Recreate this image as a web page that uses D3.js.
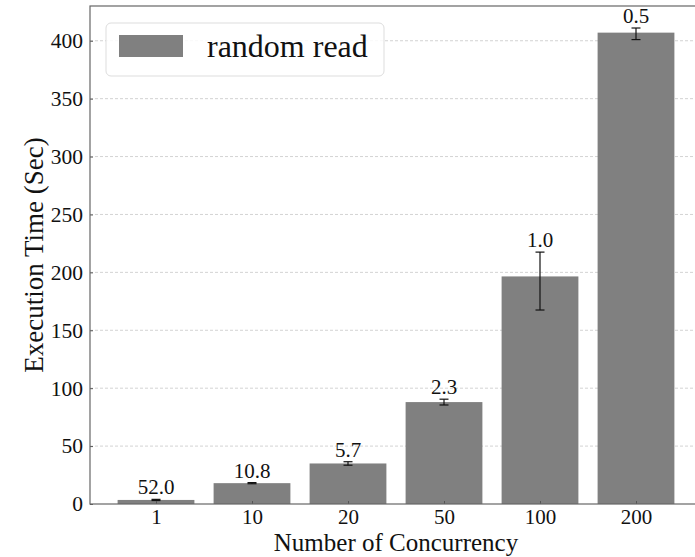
<!DOCTYPE html>
<html>
<head>
<meta charset="utf-8">
<script src="https://cdn.jsdelivr.net/npm/d3@7"></script>
<style>
  body { margin: 0; background: #fff; }
  svg { display: block; font-family: "Liberation Serif", "DejaVu Serif", serif; }
</style>
</head>
<body>
<svg id="chart" width="695" height="557"></svg>
<script>
// data
var categories = ["1", "10", "20", "50", "100", "200"];
var times = [3.5, 18, 35, 88, 196.5, 407];
var errLow = [0.5, 0.5, 1.5, 2.5, 29, 6];
var errHigh = [0.5, 0.5, 1.5, 2.5, 21, 4];
var labels = ["52.0", "10.8", "5.7", "2.3", "1.0", "0.5"];
var yTicks = [0, 50, 100, 150, 200, 250, 300, 350, 400];

var svg = d3.select("#chart");
var margin = { left: 90, top: 6, right: 702, bottom: 504 };

var x = d3.scaleLinear()
    .domain([-0.6875, categories.length - 1 + 0.6875])
    .range([margin.left, margin.right]);
var y = d3.scaleLinear()
    .domain([0, 430])
    .range([margin.bottom, margin.top]);
var barW = (x(1) - x(0)) * 0.8;

// grid lines
svg.append("g")
    .selectAll("line")
    .data(yTicks.slice(1))
    .enter().append("line")
    .attr("x1", margin.left).attr("x2", margin.right)
    .attr("y1", d => y(d)).attr("y2", d => y(d))
    .attr("stroke", "#c8c8c8")
    .attr("stroke-width", 0.8)
    .attr("stroke-dasharray", "3,2");

// bars
svg.append("g")
    .selectAll("rect")
    .data(times)
    .enter().append("rect")
    .attr("x", (d, i) => x(i) - barW / 2)
    .attr("y", d => y(d))
    .attr("width", barW)
    .attr("height", d => y(0) - y(d))
    .attr("fill", "#808080");

// error bars
var err = svg.append("g")
    .attr("stroke", "#111")
    .attr("stroke-width", 1.2);
times.forEach(function(d, i) {
    var cx = x(i);
    var lo = d - errLow[i], hi = d + errHigh[i];
    err.append("line")
        .attr("x1", cx).attr("x2", cx)
        .attr("y1", y(lo)).attr("y2", y(hi));
    [lo, hi].forEach(function(v) {
        err.append("line")
            .attr("x1", cx - 4.5).attr("x2", cx + 4.5)
            .attr("y1", y(v)).attr("y2", y(v));
    });
});

// value labels
svg.append("g")
    .selectAll("text")
    .data(labels)
    .enter().append("text")
    .attr("x", (d, i) => x(i))
    .attr("y", (d, i) => y(times[i] + errHigh[i]) - 5)
    .attr("text-anchor", "middle")
    .attr("font-size", 21)
    .attr("fill", "#111")
    .text(d => d);

// axes with inward ticks
var xAxis = svg.append("g")
    .attr("transform", `translate(0,${margin.bottom})`)
    .call(d3.axisBottom(x)
        .tickValues(d3.range(categories.length))
        .tickFormat(i => categories[i])
        .tickSizeInner(-3).tickSizeOuter(0).tickPadding(5));
var yAxis = svg.append("g")
    .attr("transform", `translate(${margin.left},0)`)
    .call(d3.axisLeft(y)
        .tickValues(yTicks)
        .tickSizeInner(-3).tickSizeOuter(0).tickPadding(7));

[xAxis, yAxis].forEach(function(a) {
    a.select(".domain").remove();
    a.selectAll("text")
        .attr("font-family", "Liberation Serif, DejaVu Serif, serif")
        .attr("font-size", 21.5)
        .attr("fill", "#111");
    a.selectAll("line").attr("stroke", "#555");
});
xAxis.selectAll("text").attr("font-size", 21);

// frame
svg.append("rect")
    .attr("x", margin.left).attr("y", margin.top)
    .attr("width", margin.right - margin.left)
    .attr("height", margin.bottom - margin.top)
    .attr("fill", "none")
    .attr("stroke", "#666")
    .attr("stroke-width", 1.2);

// axis titles
svg.append("text")
    .attr("x", (margin.left + margin.right) / 2)
    .attr("y", 551)
    .attr("text-anchor", "middle")
    .attr("font-size", 25)
    .attr("fill", "#111")
    .text("Number of Concurrency");

svg.append("text")
    .attr("transform", `translate(43,${(margin.top + margin.bottom) / 2}) rotate(-90)`)
    .attr("text-anchor", "middle")
    .attr("font-size", 27)
    .attr("fill", "#111")
    .text("Execution Time (Sec)");

// legend
var legend = svg.append("g");
legend.append("rect")
    .attr("x", 106).attr("y", 23)
    .attr("width", 278).attr("height", 53)
    .attr("rx", 5).attr("ry", 5)
    .attr("fill", "#fff")
    .attr("fill-opacity", 0.85)
    .attr("stroke", "#ddd");
legend.append("rect")
    .attr("x", 119).attr("y", 35)
    .attr("width", 64).attr("height", 22)
    .attr("fill", "#808080");
legend.append("text")
    .attr("x", 207).attr("y", 57)
    .attr("font-size", 32)
    .attr("fill", "#111")
    .text("random read");
</script>
</body>
</html>
